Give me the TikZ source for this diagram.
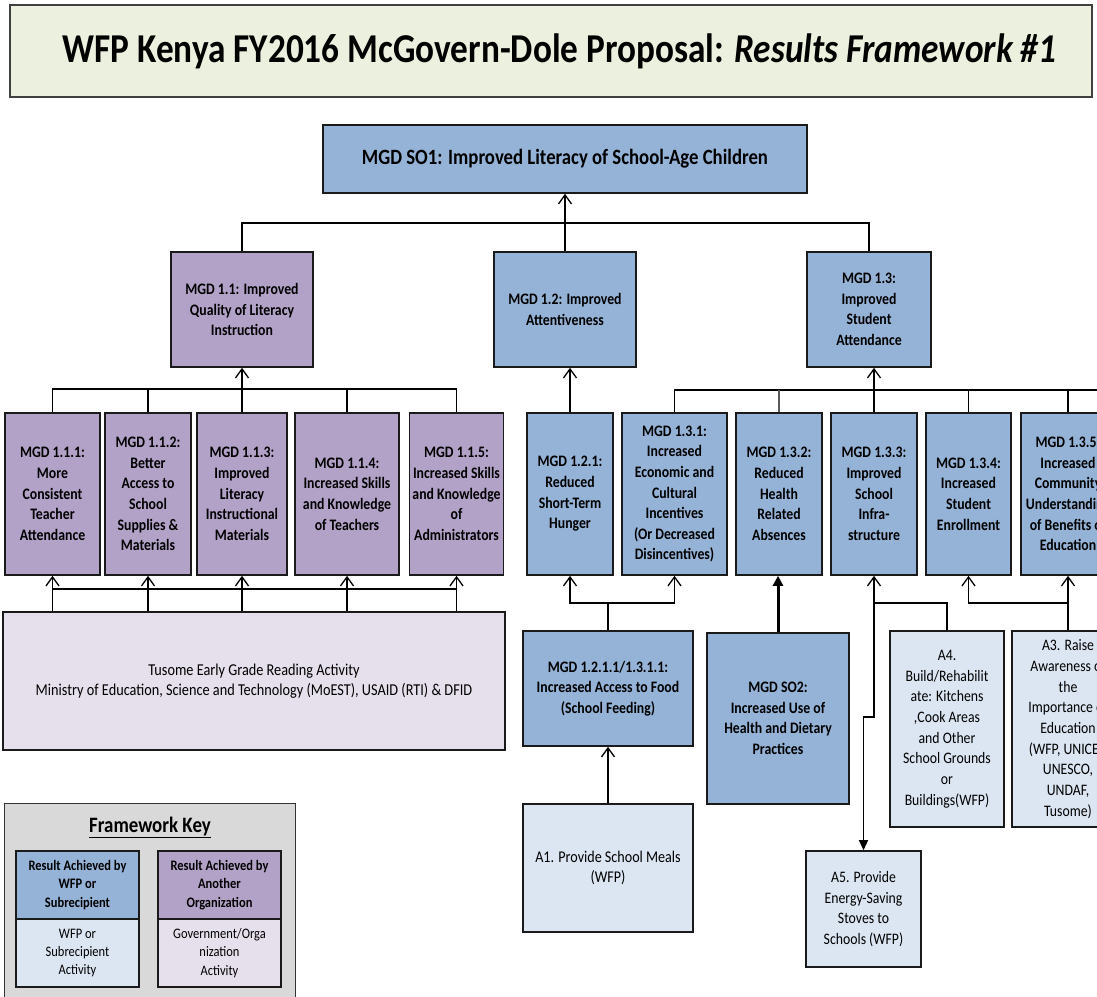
\documentclass[tikz,border=0pt]{standalone}
\usepackage{fontspec}
\usetikzlibrary{arrows.meta}
\newfontfamily\boxfont[FakeStretch=0.86]{Carlito}
\definecolor{resblue}{HTML}{95B3D7}
\definecolor{respurple}{HTML}{B3A2C7}
\definecolor{actblue}{HTML}{DCE6F2}
\definecolor{actpurple}{HTML}{E6E0EC}
\definecolor{titlegreen}{HTML}{EBF1DE}
\definecolor{keygray}{HTML}{D9D9D9}
\definecolor{edge}{HTML}{1A1A1A}
\tikzset{
  box/.style={draw=edge, line width=1.6pt, inner sep=0pt, align=center,
    font=\boxfont\fontsize{16}{20.6}\selectfont\bfseries},
  act/.style={box, fill=actblue, font=\boxfont\fontsize{16}{20.7}\selectfont},
  resB/.style={box, fill=resblue},
  resP/.style={box, fill=respurple},
  wh/.style 2 args={minimum width=#1pt, minimum height=#2pt},
  keyf/.style={font=\boxfont\fontsize{14.5}{18.3}\selectfont},
  keyfb/.style={font=\boxfont\fontsize{14.5}{18.3}\selectfont\bfseries},
  conn/.style={line width=1.3pt, draw=black},
  arr/.style={conn, -{Straight Barb[length=9pt,width=13pt,line width=1.3pt]}},
  farr/.style={conn, -{Triangle[length=10pt,width=9pt]}},
  tharr/.style={line width=3pt, draw=black, -{Triangle[length=10pt,width=10pt]}},
}
\begin{document}
\begin{tikzpicture}[x=1pt,y=-1pt]
\useasboundingbox (0,0) rectangle (1097,996);
\clip (0,0) rectangle (1097,996);

% heading
\node[box, fill=titlegreen, wh={1082}{92}, draw=black!75,
  font=\boxfont\fontsize{41}{44}\selectfont\bfseries] (title) at (551,51)
  {\hspace*{17pt}WFP Kenya FY2016 McGovern-Dole Proposal: \textit{Results Framework \#1}};

% strategic objective and first level results
\node[resB, wh={484}{68}, font=\boxfont\fontsize{21.8}{24}\selectfont\bfseries] (so1) at (565,159)
  {MGD SO1: Improved Literacy of School-Age Children};
\node[resP, wh={142}{115}] (n11) at (242,309.5) {MGD 1.1: Improved\\Quality of Literacy\\Instruction};
\node[resB, wh={142}{115}] (n12) at (565,309.5) {MGD 1.2: Improved\\Attentiveness};
\node[resB, wh={124}{115}] (n13) at (869,309.5) {MGD 1.3:\\Improved\\Student\\Attendance};

% second level results
\node[resP, wh={95}{162}] (n111) at (52.5,494) {MGD 1.1.1:\\More\\Consistent\\Teacher\\Attendance};
\node[resP, wh={86}{162}] (n112) at (148,494) {MGD 1.1.2:\\Better\\Access to\\School\\Supplies \&\\Materials};
\node[resP, wh={90}{162}] (n113) at (242,494) {MGD 1.1.3:\\Improved\\Literacy\\Instructional\\Materials};
\node[resP, wh={104}{162}] (n114) at (347,494) {MGD 1.1.4:\\Increased Skills\\and Knowledge\\of Teachers};
\node[resP, wh={94}{162}] (n115) at (456.5,494) {MGD 1.1.5:\\Increased Skills\\and Knowledge\\of\\Administrators};
\node[resB, wh={86}{162}] (n121) at (570,494) {MGD 1.2.1:\\Reduced\\Short-Term\\Hunger};
\node[resB, wh={105}{162}] (n131) at (674.5,494) {MGD 1.3.1:\\Increased\\Economic and\\Cultural\\Incentives\\(Or Decreased\\Disincentives)};
\node[resB, wh={86}{162}] (n132) at (779,494) {MGD 1.3.2:\\Reduced\\Health\\Related\\Absences};
\node[resB, wh={86}{162}] (n133) at (874,494) {MGD 1.3.3:\\Improved\\School\\Infra-\\structure};
\node[resB, wh={85}{162}] (n134) at (968.5,494) {MGD 1.3.4:\\Increased\\Student\\Enrollment};
\node[resB, wh={94}{162}] (n135) at (1068,494) {MGD 1.3.5:\\Increased\\Community\\Understanding\\of Benefits of\\Education};

% lower results and activities
\node[box, fill=actpurple, wh={502}{138}, font=\boxfont\fontsize{16.6}{20.6}\selectfont] (tus) at (254,681)
  {Tusome Early Grade Reading Activity\\Ministry of Education, Science and Technology (MoEST), USAID (RTI) \& DFID};
\node[resB, wh={170}{115}] (feed) at (608,688.5) {MGD 1.2.1.1/1.3.1.1:\\Increased Access to Food\\(School Feeding)};
\node[resB, wh={142}{171}] (so2) at (778,718.5) {MGD SO2:\\Increased Use of\\Health and Dietary\\Practices};
\node[act, wh={114}{196}] (a4) at (947,729) {A4.\\Build/Rehabilit\\ate: Kitchens\\,Cook Areas\\and Other\\School Grounds\\or\\Buildings(WFP)};
\node[act, wh={112}{196}] (a3) at (1068,729) {A3. Raise\\Awareness of\\the\\Importance of\\Education\\(WFP, UNICEF,\\UNESCO,\\UNDAF,\\Tusome)};
\node[act, wh={170}{128}, font=\boxfont\fontsize{16.4}{20.7}\selectfont] (a1) at (608,868) {A1. Provide School Meals\\(WFP)};
\node[act, wh={115}{116}] (a5) at (863.5,909) {A5. Provide\\Energy-Saving\\Stoves to\\Schools (WFP)};

% key
\node[draw=black!80, line width=1.3pt, fill=keygray, minimum width=291pt, minimum height=205pt,
  anchor=north west, inner sep=0pt] (key) at (4,803) {};
\node[font=\boxfont\fontsize{22}{25}\selectfont\bfseries] (keyt) at (150,827) {\underline{Framework Key}};
\node[resB, wh={123}{68}, keyfb] (k1) at (77.5,885) {Result Achieved by\\WFP or\\Subrecipient};
\node[act, wh={123}{68}, keyf] (k2) at (77.5,953) {WFP or\\Subrecipient\\Activity};
\node[resP, wh={123}{68}, keyfb] (k3) at (219.5,885) {Result Achieved by\\Another\\Organization};
\node[box, fill=actpurple, wh={123}{68}, keyf] (k4) at (219.5,953) {Government/Orga\\nization\\Activity};

% connectors: first level to SO1
\coordinate (t1) at (0,223);
\draw[conn] (n11.north) |- (n13.north |- t1) -- (n13.north);
\draw[arr] (n12.north) -- (so1.south);

% connectors: 1.1.x to 1.1
\coordinate (b11) at (0,389);
\draw[conn] (n111.north) |- (n115.north |- b11) -- (n115.north);
\draw[conn] (n112.north) -- (n112.north |- b11);
\draw[conn] (n114.north) -- (n114.north |- b11);
\draw[arr] (n113.north) -- (n11.south);

% Tusome to 1.1.x
\coordinate (b11b) at (0,589);
\foreach \n in {n111,n112,n113,n114,n115}
  \draw[arr] (\n.south |- tus.north) -- (\n.south);
\draw[conn] (n111.south |- b11b) -- (n115.south |- b11b);

% 1.2.1 to 1.2
\draw[arr] (n121.north) -- (n121.north |- n12.south);

% 1.3.x to 1.3
\coordinate (b13) at (0,390);
\coordinate (busend) at (1100,390);
\draw[conn] (n131.north) |- (busend);
\draw[conn, draw=black!65] (n132.north) -- (n132.north |- b13);
\draw[conn] (n134.north) -- (n134.north |- b13);
\draw[conn] (n135.north) -- (n135.north |- b13);
\draw[arr] (n133.north) -- (n133.north |- n13.south);

% school feeding and activities
\coordinate (b2) at (0,603);
\draw[arr] (feed.north) -- (feed.north |- b2) -| (n121.south);
\draw[arr] (feed.north |- b2) -| (n131.south);
\draw[arr] (a1.north) -- (feed.south);
\draw[tharr] (so2.north) -- (so2.north |- n132.south);
\draw[arr] (a4.north) |- (n133.south |- b2) -- (n133.south);
\coordinate (jog) at (874,717);
\draw[farr] (n133.south |- b2) -- (jog) -| (a5.north);
\draw[arr] (a3.north) -- (a3.north |- b2) -| (n134.south);
\draw[arr] (a3.north |- b2) -- (n135.south);
\end{tikzpicture}
\end{document}
